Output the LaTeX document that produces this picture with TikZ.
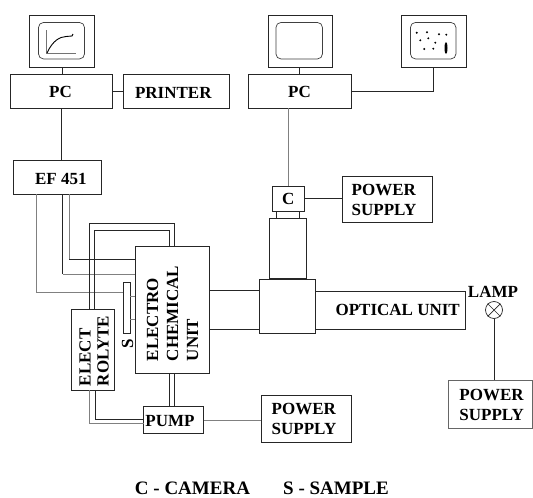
\documentclass[tikz,border=0pt]{standalone}
\usepackage{fontspec}
\setmainfont{Liberation Serif}
\def\LabelSize{17}
\tikzset{
    blockbox/.style={draw=black!85,line width=0.9pt,inner sep=0pt},
    tagtext/.style={inner sep=0pt,align=left,font=\fontsize{\LabelSize}{20}\selectfont\bfseries},
    keytext/.style={inner sep=0pt,anchor=base,font=\fontsize{19}{20}\selectfont\bfseries},
    screenbox/.style={draw=black!75,line width=0.7pt,rounded corners=5pt,inner sep=0pt},
    darkline/.style={draw=black!85,line width=0.9pt},
    greyline/.style={draw=black!50,line width=0.8pt}
}
\begin{document}
\begin{tikzpicture}[x=1pt,y=-1pt]

\useasboundingbox (0,0) rectangle (533,498);
\fill[white] (0,0) rectangle (533,498);

% =====================================================
% COMPUTERS AND MONITORS
% =====================================================
\node[blockbox,minimum width=65pt,minimum height=52pt] (monitorA) at (62,41) {};
\node[screenbox,minimum width=46pt,minimum height=36.5pt] (screenA) at (61.5,40.7) {};
\node[blockbox,minimum width=64pt,minimum height=51.5pt] (monitorB) at (300.5,41.2) {};
\node[screenbox,minimum width=46.5pt,minimum height=36.5pt] (screenB) at (299.2,40.7) {};
\node[blockbox,minimum width=65pt,minimum height=51.5pt] (monitorC) at (433.5,41.2) {};
\node[screenbox,minimum width=45.5pt,minimum height=36.5pt] (screenC) at (433.2,40.7) {};

\node[blockbox,minimum width=102pt,minimum height=33.5pt] (pcA) at (61.5,91.2) {};
\node[tagtext] (pcAlabel) at (60.5,92) {PC};
\node[blockbox,minimum width=105.5pt,minimum height=33.5pt] (printer) at (176.2,91.2) {};
\node[tagtext] (printerlabel) at (173.3,93) {PRINTER};
\node[blockbox,minimum width=103pt,minimum height=33.5pt] (pcB) at (300.2,91.2) {};
\node[tagtext] (pcBlabel) at (299.5,92) {PC};
\node[blockbox,minimum width=88pt,minimum height=34pt] (logger) at (57,177) {};
\node[tagtext] (loggerlabel) at (60.8,179) {EF 451};

% Curve on the first screen
\draw[black!55,line width=0.7pt] (46,30) -- (46,53) -- (76,53);
\draw[black,line width=0.9pt] (47,53) .. controls (53,40) and (60,37) .. (66,36.5) -- (72,36) -- (73,34);

% Spots on the last screen
\foreach \dx/\dy in {416.7/32.7,427/32.3,439/34.3,446.3/34.7,420.3/40.3,428.3/38.3,435.3/42.7,424.3/49,433.3/48.7} {
    \fill[black] (\dx,\dy) circle (1.1pt);
}
\fill[black] (446,48) ellipse (1.5pt and 6pt);

\draw[darkline] (monitorA.south) -- (monitorA.south |- pcA.north);
\draw[darkline] (pcA.east) -- (printer.west);
\draw[darkline] (screenB.south |- monitorB.south) -- (screenB.south |- pcB.north);
\draw[darkline] (monitorC.south) |- (pcB.east);
\draw[darkline] (pcA.south) -- (pcA.south |- logger.north);

% =====================================================
% CAMERA AND OPTICS
% =====================================================
\node[blockbox,minimum width=32pt,minimum height=25pt] (camera) at (288,198.5) {};
\node[tagtext] (cameralabel) at (288.3,198.5) {C};
\node[blockbox,minimum width=90pt,minimum height=46.5pt] (powerA) at (387,199.2) {};
\node[tagtext] (powerAlabel) at (384,199.5) {POWER\\SUPPLY};
\node[blockbox,minimum width=37pt,minimum height=60pt] (lens) at (288,248) {};
\node[blockbox,minimum width=23.5pt,minimum height=7pt] (neck) at (287.7,214.5) {};
\node[blockbox,minimum width=56pt,minimum height=54pt] (cube) at (287.5,306) {};
\node[blockbox,minimum width=149.5pt,minimum height=38pt] (optics) at (390.2,310) {};
\node[tagtext,anchor=east] (opticslabel) at (460,310) {OPTICAL UNIT};
\node[blockbox,minimum width=50.5pt,minimum height=39pt] (tube) at (234.2,309.5) {};

\draw[greyline] (pcB.south -| camera.north) -- (camera.north);
\draw[darkline] (camera.east) -- (camera.east -| powerA.west);

% =====================================================
% LAMP
% =====================================================
\node[tagtext] (lamplabel) at (493,292) {LAMP};
\node[draw=black!85,line width=0.7pt,circle,minimum size=17pt,inner sep=0pt] (lamp) at (494,310) {};
\draw[black!85,line width=0.7pt] (lamp.north east) -- (lamp.south west) (lamp.north west) -- (lamp.south east);
\node[blockbox,draw=black!60,minimum width=84pt,minimum height=47.5pt] (powerC) at (490.5,404.5) {};
\node[tagtext] (powerClabel) at (491.7,404.5) {POWER\\SUPPLY};
\draw[darkline] (lamp.south) -- (lamp.south |- powerC.north);

% =====================================================
% CELL, SAMPLE, ELECTROLYTE, PUMP
% =====================================================
\node[blockbox,minimum width=74pt,minimum height=127pt] (cell) at (172,309.5) {};
\node[tagtext,rotate=90] (celllabel) at (172.5,313.5) {ELECTRO\\CHEMICAL\\UNIT};
\node[blockbox,minimum width=42.5pt,minimum height=81pt] (electrolyte) at (92.8,349.5) {};
\node[tagtext,rotate=90] (electrolytelabel) at (94,351) {ELECT\\[-2pt]ROLYTE};
\node[blockbox,minimum width=7pt,minimum height=50.5pt] (sample) at (126.8,308) {};
\node[tagtext,rotate=90] (samplelabel) at (127.5,344) {S};
\node[blockbox,minimum width=59.5pt,minimum height=26.5pt] (pump) at (173.5,420) {};
\node[tagtext] (pumplabel) at (170,421) {PUMP};
\node[blockbox,minimum width=90pt,minimum height=47pt] (powerB) at (306.7,418.5) {};
\node[tagtext] (powerBlabel) at (304,419) {POWER\\SUPPLY};

% Tap points along the box edges
\coordinate (loggerS) at (36.7,194);
\coordinate (loggerM) at (62.7,194);
\coordinate (loggerE) at (69.3,194);
\coordinate (sampleTop) at (123.3,292);
\coordinate (cellM) at (135,274.3);
\coordinate (cellE) at (135,259);
\coordinate (sampleA) at (130.3,296);
\coordinate (sampleB) at (130.3,319.3);

\coordinate (bathOutA) at (89.3,309);
\coordinate (bathOutB) at (94.7,309);
\coordinate (cellInA) at (174.7,246);
\coordinate (cellInB) at (169,246);
\coordinate (bathInA) at (89.7,390);
\coordinate (bathInB) at (95.3,390);
\coordinate (pumpInA) at (143.7,423.3);
\coordinate (pumpInB) at (143.7,419);
\coordinate (cellOutA) at (174.7,373);
\coordinate (cellOutB) at (169.3,373);
\coordinate (pumpUpA) at (174.7,406.7);
\coordinate (pumpUpB) at (169.3,406.7);

\draw[greyline] (loggerS) |- (sampleTop);
\draw[darkline] (loggerM) -- (loggerM |- cellM);
\draw[greyline] (loggerM |- cellM) -- (cellM);
\draw[greyline] (loggerE) -- (loggerE |- cellE);
\draw[darkline] (loggerE |- cellE) -- (cellE);
\draw[greyline] (sampleA) -- (sampleA -| cell.west);
\draw[greyline] (sampleB) -- (sampleB -| cell.west);

\draw[darkline] (bathOutA) -- (89.3,223.7) -- (174.7,223.7) -- (cellInA);
\draw[darkline] (bathOutB) -- (94.7,230.3) -- (169,230.3) -- (cellInB);
\draw[greyline] (bathInA) |- (pumpInA);
\draw[darkline] (bathInB) |- (pumpInB);
\draw[darkline,line width=1.4pt] (cellOutA) -- (pumpUpA);
\draw[darkline,line width=1.4pt] (cellOutB) -- (pumpUpB);
\draw[greyline] (pump.east) -- (pump.east -| powerB.west);

% =====================================================
% KEY
% =====================================================
\node[keytext] (keycamera) at (192.5,494.5) {C - CAMERA};
\node[keytext] (keysample) at (336,494.5) {S - SAMPLE};

\end{tikzpicture}
\end{document}
